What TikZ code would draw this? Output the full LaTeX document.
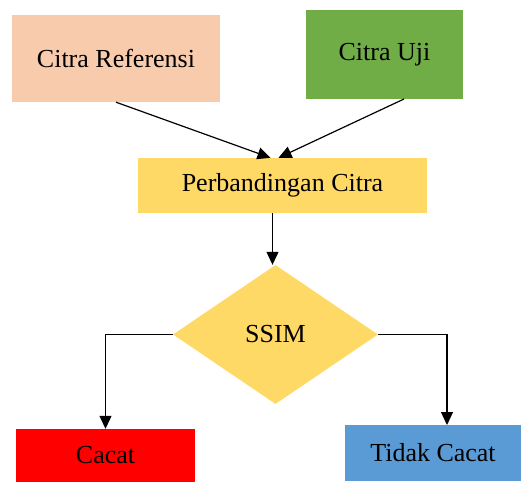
\documentclass[tikz,border=0pt]{standalone}
\usepackage{fontspec}
\setmainfont{Liberation Serif}
\usetikzlibrary{shapes.geometric,arrows.meta}

\definecolor{peach}{HTML}{F8CBAD}
\definecolor{grass}{HTML}{70AD47}
\definecolor{gold}{HTML}{FFD966}
\definecolor{sky}{HTML}{5B9BD5}

\begin{document}
\begin{tikzpicture}[x=1pt,y=-1pt,
  kotak/.style={rectangle,inner sep=0pt,font=\fontsize{26}{30}\selectfont},
  panah/.style={-{Triangle[length=13pt,width=12pt]},line width=1.2pt}]
  \useasboundingbox (0,0) rectangle (522,482);

  \node[kotak,fill=peach,minimum width=208pt,minimum height=87pt] (ref) at (116,58.5) {Citra Referensi};
  \node[kotak,fill=grass,minimum width=157pt,minimum height=89pt] (uji) at (384.5,54.5) {Citra Uji};
  \node[kotak,fill=gold,minimum width=289pt,minimum height=55pt] (banding) at (282.5,185.5) {Perbandingan Citra};
  \node[kotak,diamond,fill=gold,minimum width=205pt,minimum height=139pt] (ssim) at (275.5,334.5) {SSIM};
  \node[kotak,fill=red,minimum width=179pt,minimum height=53pt] (cacat) at (105.5,455.5) {Cacat};
  \node[kotak,fill=sky,minimum width=176pt,minimum height=56pt] (tidak) at (433,453) {Tidak Cacat};

  \coordinate (ujiout) at (404,99);
  \coordinate (kanan) at (447,425);

  \draw[panah] (ref.south) -- ([xshift=-12pt]banding.north);
  \draw[panah] (ujiout) -- ([xshift=-4pt]banding.north);
  \draw[panah] ([xshift=-10pt]banding.south) -- ([xshift=-3pt]ssim.north);
  \draw[panah] (ssim.west) -| (cacat.north);
  \draw[panah] (ssim.east) -| (kanan);
\end{tikzpicture}
\end{document}
